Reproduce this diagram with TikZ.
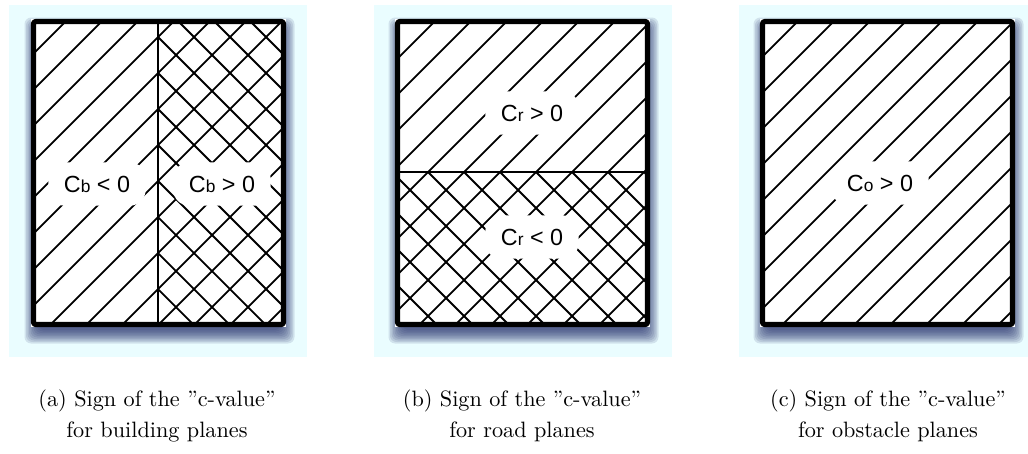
\documentclass[tikz,border=0pt]{standalone}
\usepackage{fontspec}
\newfontfamily\hv{Liberation Sans}
\definecolor{bgc}{RGB}{234,253,255}
\definecolor{shadowc}{RGB}{40,50,110}
\newcommand\panelshadow[4]{%
  \foreach \i in {0,...,9}{%
    \fill[shadowc, opacity=0.13, rounded corners=3pt]
      (#1+3+4-\i*1.5, #2+8+4-\i*1.5) rectangle (#3-1-4+\i*1.5, #4+7-4+\i*1.5);
  }}
\begin{document}
\begin{tikzpicture}[x=0.45pt,y=-0.45pt,
  hatch/.style={line width=0.8pt},
  divider/.style={line width=0.8pt},
  frame/.style={line width=2.3pt, line join=round, rounded corners=1pt},
  lbl/.style={fill=white, rounded corners=7pt, inner xsep=7pt, inner ysep=6pt,
    font=\hv\fontsize{10.5}{12}\selectfont},
  captext/.style={font=\fontsize{10}{12}\selectfont, anchor=base}]
\useasboundingbox (0,0) rectangle (1028,453);
% backgrounds
\fill[bgc] (9,5) rectangle (307,357);
\fill[bgc] (374,5) rectangle (672,357);
\fill[bgc] (739,5) rectangle (1028,357);
% shadows
\panelshadow{31}{19}{286}{327}
\panelshadow{395}{19}{650}{327}
\panelshadow{760}{19}{1015}{327}
% panel (a)
\fill[white] (31,19) rectangle (286,327);
\begin{scope}
  \clip (35,23) rectangle (282,323);
  \foreach \c in {51,87,...,615}{\draw[hatch] (\c-340,340) -- (\c,0);}
  \clip (158,0) rectangle (300,340);
  \foreach \d in {-167,-131,...,270}{\draw[hatch] (\d,0) -- (\d+340,340);}
\end{scope}
\draw[divider] (158,19) -- (158,327);
\node[lbl] (la) at (97,184) {C{\fontsize{7.8}{9}\selectfont b} < 0};
\node[lbl] (lb) at (222,184) {C{\fontsize{7.8}{9}\selectfont b} > 0};
\draw[frame] (33.5,21.5) rectangle (283.5,324.5);
% panel (b)
\fill[white] (395,19) rectangle (650,327);
\begin{scope}
  \clip (399,23) rectangle (646,323);
  \foreach \c in {420,456,...,980}{\draw[hatch] (\c-340,340) -- (\c,0);}
  \clip (380,172) rectangle (660,340);
  \foreach \d in {40,76,...,480}{\draw[hatch] (\d,0) -- (\d+340,340);}
\end{scope}
\draw[divider] (395,172) -- (650,172);
\node[lbl] (lc) at (532,113) {C{\fontsize{7.8}{9}\selectfont r} > 0};
\node[lbl] (ld) at (532,237) {C{\fontsize{7.8}{9}\selectfont r} < 0};
\draw[frame] (397.5,21.5) rectangle (647.5,324.5);
% panel (c)
\fill[white] (760,19) rectangle (1015,327);
\begin{scope}
  \clip (764,23) rectangle (1011,323);
  \foreach \c in {783,819,...,1345}{\draw[hatch] (\c-340,340) -- (\c,0);}
\end{scope}
\node[lbl] (le) at (880,183) {C{\fontsize{7.8}{9}\selectfont o} > 0};
\draw[frame] (762.5,21.5) rectangle (1012.5,324.5);
% captions
\node[captext] (capa1) at (157,406) {(a) Sign of the \textquotedblright c-value\textquotedblright};
\node[captext] (capa2) at (157,437) {for building planes};
\node[captext] (capb1) at (522,406) {(b) Sign of the \textquotedblright c-value\textquotedblright};
\node[captext] (capb2) at (522,437) {for road planes};
\node[captext] (capc1) at (888,406) {(c) Sign of the \textquotedblright c-value\textquotedblright};
\node[captext] (capc2) at (888,437) {for obstacle planes};
\end{tikzpicture}
\end{document}
